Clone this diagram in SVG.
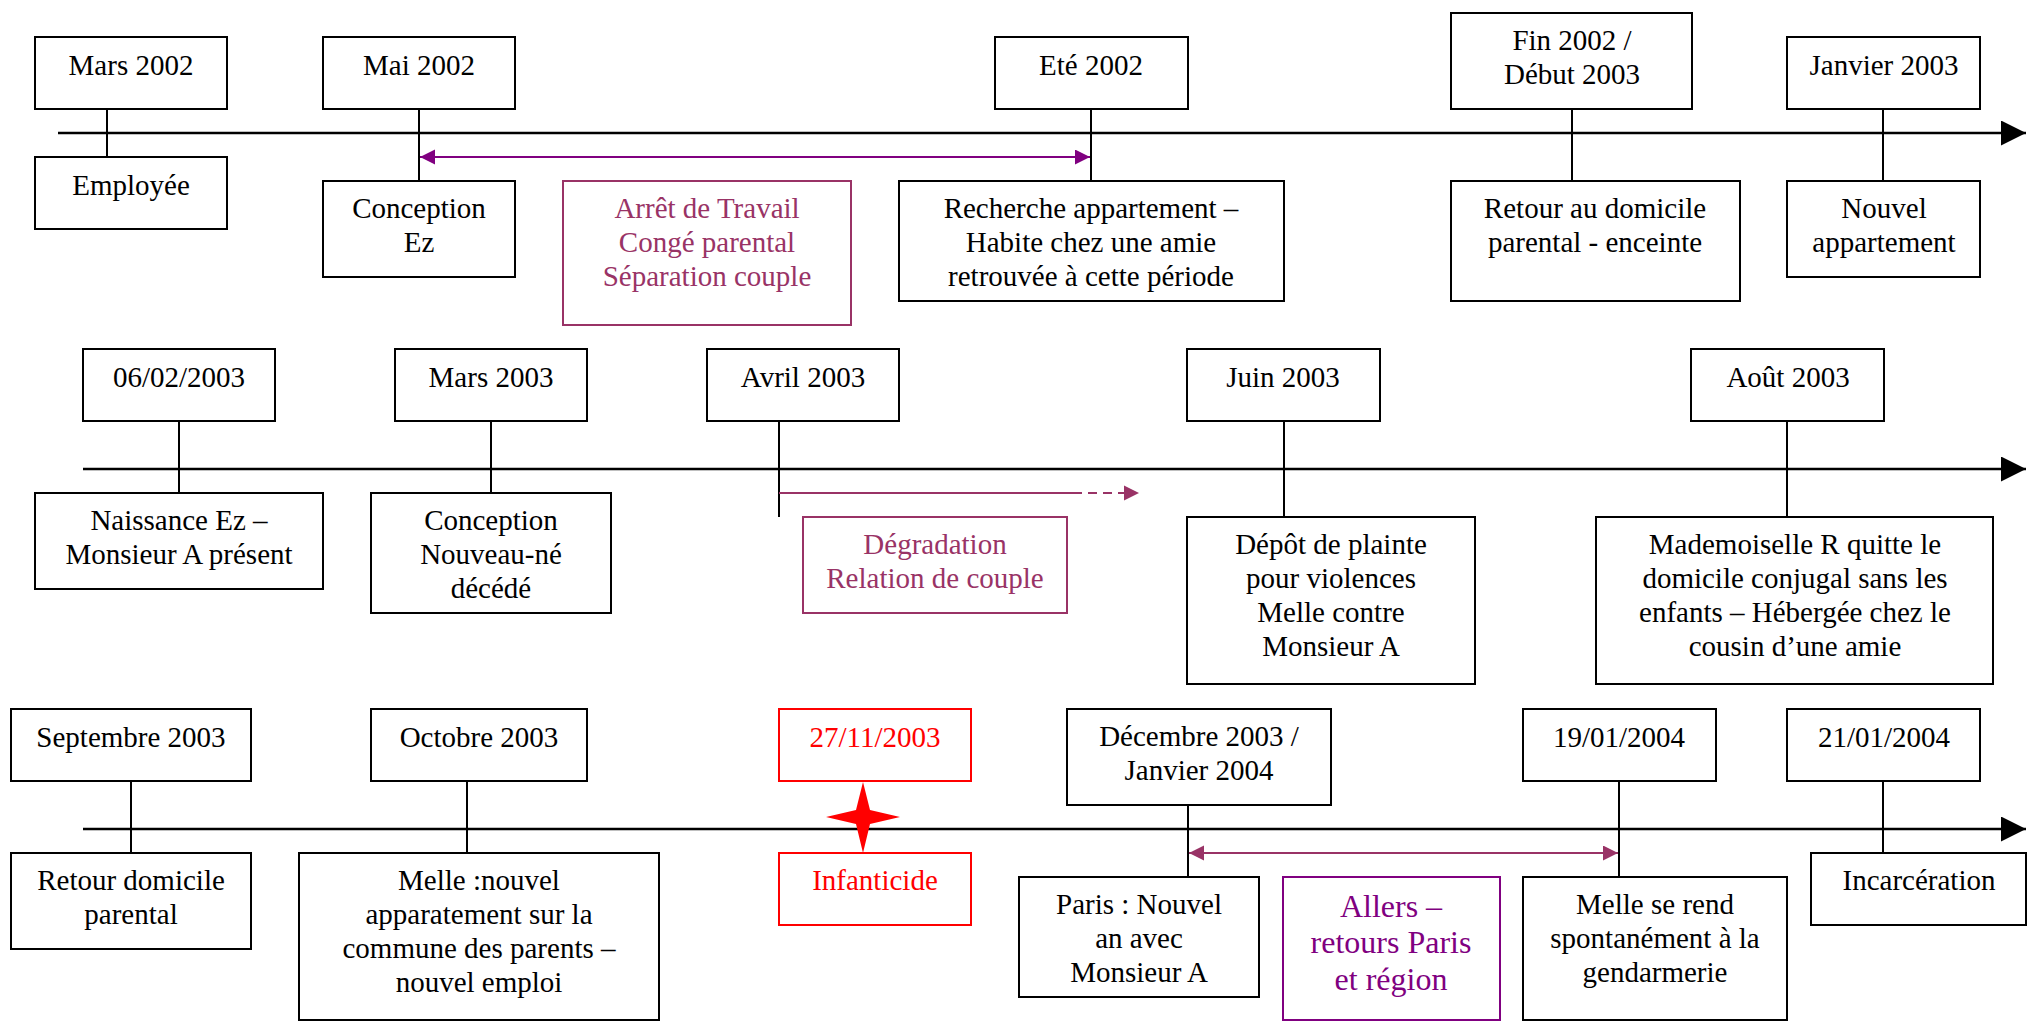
<svg xmlns="http://www.w3.org/2000/svg" width="2028" height="1021" viewBox="0 0 2028 1021">
<style>
.b{fill:#fff;stroke:#000;stroke-width:2}
.br{fill:#fff;stroke:#ff0000;stroke-width:2}
.bp{fill:#fff;stroke:#993366;stroke-width:2}
.bv{fill:#fff;stroke:#800080;stroke-width:2}
text{font-family:"Liberation Serif","Times New Roman",serif;font-size:29px;text-anchor:middle;fill:#000}
.tr{fill:#ff0000}
.tp{fill:#993366}
.tv{fill:#800080;font-size:32px}
.ln{stroke:#000;stroke-width:2;fill:none}
.tl{stroke:#000;stroke-width:2.5;fill:none;marker-end:url(#ah)}
</style>
<defs>
<marker id="ah" markerUnits="userSpaceOnUse" markerWidth="26" markerHeight="26" refX="25" refY="12.5" orient="auto"><path d="M0,0L25,12.5L0,25Z" fill="#000"/></marker>
<marker id="av" markerUnits="userSpaceOnUse" markerWidth="16" markerHeight="16" refX="15" refY="7.5" orient="auto-start-reverse"><path d="M0,0L15,7.5L0,15Z" fill="#800080"/></marker>
<marker id="ap" markerUnits="userSpaceOnUse" markerWidth="16" markerHeight="16" refX="15" refY="7.5" orient="auto-start-reverse"><path d="M0,0L15,7.5L0,15Z" fill="#993366"/></marker>
</defs>
<rect width="2028" height="1021" fill="#fff"/>
<g id="connectors">
<line class="tl" x1="58" y1="133" x2="2026" y2="133"/>
<line class="tl" x1="83" y1="469" x2="2026" y2="469"/>
<line class="tl" x1="83" y1="829" x2="2026" y2="829"/>
<line class="ln" x1="107" y1="109" x2="107" y2="157"/>
<line class="ln" x1="419" y1="109" x2="419" y2="181"/>
<line class="ln" x1="1091" y1="109" x2="1091" y2="181"/>
<line class="ln" x1="1572" y1="109" x2="1572" y2="181"/>
<line class="ln" x1="1883" y1="109" x2="1883" y2="181"/>
<line x1="420" y1="157" x2="1090" y2="157" stroke="#800080" stroke-width="2" marker-start="url(#av)" marker-end="url(#av)"/>
<line class="ln" x1="179" y1="421" x2="179" y2="493"/>
<line class="ln" x1="491" y1="421" x2="491" y2="493"/>
<line class="ln" x1="779" y1="421" x2="779" y2="517"/>
<line class="ln" x1="1284" y1="421" x2="1284" y2="517"/>
<line class="ln" x1="1787" y1="421" x2="1787" y2="517"/>
<line x1="779" y1="493" x2="1073" y2="493" stroke="#993366" stroke-width="2"/>
<line x1="1073" y1="493" x2="1126" y2="493" stroke="#993366" stroke-width="2" stroke-dasharray="9,6"/>
<path d="M1124,485.5L1139,493L1124,500.5Z" fill="#993366"/>
<line class="ln" x1="131" y1="781" x2="131" y2="853"/>
<line class="ln" x1="467" y1="781" x2="467" y2="853"/>
<line class="ln" x1="1188" y1="805" x2="1188" y2="877"/>
<line class="ln" x1="1619" y1="781" x2="1619" y2="877"/>
<line class="ln" x1="1883" y1="781" x2="1883" y2="853"/>
<line x1="1189" y1="853" x2="1618" y2="853" stroke="#993366" stroke-width="2" marker-start="url(#ap)" marker-end="url(#ap)"/>
<path d="M863,782L870,810L900,817L870,824L863,853L856,824L826,817L856,810Z" fill="#ff0000"/>
</g>
<g id="n-mars2002"><rect class="b" x="35" y="37" width="192" height="72"/><text x="131" y="75">Mars 2002</text></g>
<g id="n-employee"><rect class="b" x="35" y="157" width="192" height="72"/><text x="131" y="195">Employée</text></g>
<g id="n-mai2002"><rect class="b" x="323" y="37" width="192" height="72"/><text x="419" y="75">Mai 2002</text></g>
<g id="n-conception-ez"><rect class="b" x="323" y="181" width="192" height="96"/><text x="419" y="218">Conception</text><text x="419" y="252">Ez</text></g>
<g id="n-arret"><rect class="bp" x="563" y="181" width="288" height="144"/><text class="tp" x="707" y="218">Arrêt de Travail</text><text class="tp" x="707" y="252">Congé parental</text><text class="tp" x="707" y="286">Séparation couple</text></g>
<g id="n-ete2002"><rect class="b" x="995" y="37" width="193" height="72"/><text x="1091" y="75">Eté 2002</text></g>
<g id="n-recherche"><rect class="b" x="899" y="181" width="385" height="120"/><text x="1091" y="218">Recherche appartement –</text><text x="1091" y="252">Habite chez une amie</text><text x="1091" y="286">retrouvée à cette période</text></g>
<g id="n-fin2002"><rect class="b" x="1451" y="13" width="241" height="96"/><text x="1572" y="50">Fin 2002 /</text><text x="1572" y="84">Début 2003</text></g>
<g id="n-retour-domicile-enceinte"><rect class="b" x="1451" y="181" width="289" height="120"/><text x="1595" y="218">Retour au domicile</text><text x="1595" y="252">parental - enceinte</text></g>
<g id="n-janvier2003"><rect class="b" x="1787" y="37" width="193" height="72"/><text x="1884" y="75">Janvier 2003</text></g>
<g id="n-nouvel-appart"><rect class="b" x="1787" y="181" width="193" height="96"/><text x="1884" y="218">Nouvel</text><text x="1884" y="252">appartement</text></g>
<g id="n-06022003"><rect class="b" x="83" y="349" width="192" height="72"/><text x="179" y="387">06/02/2003</text></g>
<g id="n-naissance"><rect class="b" x="35" y="493" width="288" height="96"/><text x="179" y="530">Naissance Ez –</text><text x="179" y="564">Monsieur A présent</text></g>
<g id="n-mars2003"><rect class="b" x="395" y="349" width="192" height="72"/><text x="491" y="387">Mars 2003</text></g>
<g id="n-conception-nn"><rect class="b" x="371" y="493" width="240" height="120"/><text x="491" y="530">Conception</text><text x="491" y="564">Nouveau-né</text><text x="491" y="598">décédé</text></g>
<g id="n-avril2003"><rect class="b" x="707" y="349" width="192" height="72"/><text x="803" y="387">Avril 2003</text></g>
<g id="n-degradation"><rect class="bp" x="803" y="517" width="264" height="96"/><text class="tp" x="935" y="554">Dégradation</text><text class="tp" x="935" y="588">Relation de couple</text></g>
<g id="n-juin2003"><rect class="b" x="1187" y="349" width="193" height="72"/><text x="1283" y="387">Juin 2003</text></g>
<g id="n-depot"><rect class="b" x="1187" y="517" width="288" height="167"/><text x="1331" y="554">Dépôt de plainte</text><text x="1331" y="588">pour violences</text><text x="1331" y="622">Melle contre</text><text x="1331" y="656">Monsieur A</text></g>
<g id="n-aout2003"><rect class="b" x="1691" y="349" width="193" height="72"/><text x="1788" y="387">Août 2003</text></g>
<g id="n-mademoiselle"><rect class="b" x="1596" y="517" width="397" height="167"/><text x="1795" y="554">Mademoiselle R quitte le</text><text x="1795" y="588">domicile conjugal sans les</text><text x="1795" y="622">enfants – Hébergée chez le</text><text x="1795" y="656">cousin d’une amie</text></g>
<g id="n-sept2003"><rect class="b" x="11" y="709" width="240" height="72"/><text x="131" y="747">Septembre 2003</text></g>
<g id="n-retour-parental"><rect class="b" x="11" y="853" width="240" height="96"/><text x="131" y="890">Retour domicile</text><text x="131" y="924">parental</text></g>
<g id="n-oct2003"><rect class="b" x="371" y="709" width="216" height="72"/><text x="479" y="747">Octobre 2003</text></g>
<g id="n-melle-nouvel"><rect class="b" x="299" y="853" width="360" height="167"/><text x="479" y="890">Melle :nouvel</text><text x="479" y="924">apparatement sur la</text><text x="479" y="958">commune des parents –</text><text x="479" y="992">nouvel emploi</text></g>
<g id="n-27112003"><rect class="br" x="779" y="709" width="192" height="72"/><text class="tr" x="875" y="747">27/11/2003</text></g>
<g id="n-infanticide"><rect class="br" x="779" y="853" width="192" height="72"/><text class="tr" x="875" y="890">Infanticide</text></g>
<g id="n-decembre"><rect class="b" x="1067" y="709" width="264" height="96"/><text x="1199" y="746">Décembre 2003 /</text><text x="1199" y="780">Janvier 2004</text></g>
<g id="n-paris"><rect class="b" x="1019" y="877" width="240" height="120"/><text x="1139" y="914">Paris : Nouvel</text><text x="1139" y="948">an avec</text><text x="1139" y="982">Monsieur A</text></g>
<g id="n-allers"><rect class="bv" x="1283" y="877" width="217" height="143"/><text class="tv" x="1391" y="917">Allers –</text><text class="tv" x="1391" y="953">retours Paris</text><text class="tv" x="1391" y="990">et région</text></g>
<g id="n-19012004"><rect class="b" x="1523" y="709" width="193" height="72"/><text x="1619" y="747">19/01/2004</text></g>
<g id="n-melle-gendarmerie"><rect class="b" x="1523" y="877" width="264" height="143"/><text x="1655" y="914">Melle se rend</text><text x="1655" y="948">spontanément à la</text><text x="1655" y="982">gendarmerie</text></g>
<g id="n-21012004"><rect class="b" x="1787" y="709" width="193" height="72"/><text x="1884" y="747">21/01/2004</text></g>
<g id="n-incarceration"><rect class="b" x="1811" y="853" width="215" height="72"/><text x="1919" y="890">Incarcération</text></g>
</svg>
